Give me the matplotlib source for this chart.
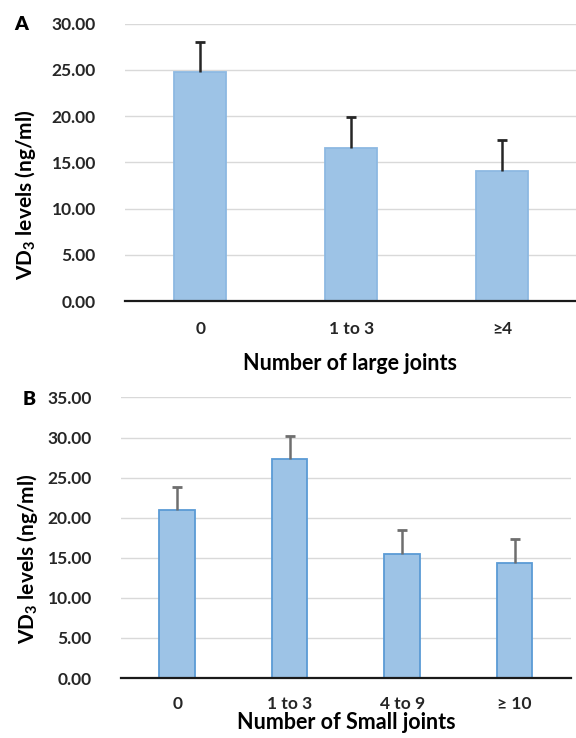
import numpy as np
import matplotlib
matplotlib.use("Agg")
import matplotlib.pyplot as plt

# Panel A: large joints
large_cats = ["0", "1 to 3", "\u22654"]
large_mean = [24.8, 16.6, 14.1]
large_sd = [3.2, 3.3, 3.3]

# Panel B: small joints
small_cats = ["0", "1 to 3", "4 to 9", "\u2265 10"]
small_mean = [20.9, 27.3, 15.5, 14.4]
small_sd = [2.95, 2.9, 2.95, 3.0]

plt.rcParams['font.family'] = ['Lato', 'DejaVu Sans']
plt.rcParams['font.weight'] = 'bold'
plt.rcParams['axes.labelweight'] = 'bold'
plt.rcParams['mathtext.fontset'] = 'custom'
plt.rcParams['mathtext.rm'] = 'Lato:bold'
plt.rcParams['mathtext.it'] = 'Lato:bold'
plt.rcParams['mathtext.bf'] = 'Lato:bold'

FILL = '#9DC3E6'
GRID = '#D9D9D9'


def draw_panel(ax, cats, means, sds, ymax, width, edge, ecol, xlim):
    x = np.arange(len(cats))
    means = np.array(means)
    tops = means + np.array(sds)
    ax.bar(x, means, width=width, color=FILL, edgecolor=edge, linewidth=1.3,
           zorder=3)
    # upper error only, cap at the top
    ax.vlines(x, means, tops, color=ecol, linewidth=1.8, zorder=4)
    ax.plot(x, tops, linestyle='none', marker='_', markersize=7,
            markeredgewidth=2, color=ecol, zorder=4)
    ax.set_ylim(0, ymax)
    ax.set_xlim(*xlim)
    ticks = np.arange(0, ymax + 0.1, 5)
    ax.set_yticks(ticks)
    ax.set_yticklabels([f"{v:.2f}" for v in ticks])
    ax.set_xticks(x)
    ax.set_xticklabels(cats)
    ax.tick_params(axis='y', length=0, pad=21, labelsize=12.5, colors='#262626')
    ax.tick_params(axis='x', length=0, pad=14, labelsize=12.5, colors='#262626')
    ax.grid(axis='y', color=GRID, linewidth=1, zorder=0)
    ax.set_axisbelow(True)
    for s in ['top', 'right', 'left']:
        ax.spines[s].set_visible(False)
    ax.spines['bottom'].set_color('#1a1a1a')
    ax.spines['bottom'].set_linewidth(1.6)
    ax.spines['bottom'].set_zorder(5)


fig = plt.figure(figsize=(5.76, 7.38), dpi=100)

axA = fig.add_axes([0.217, 0.592, 0.783, 0.376])
draw_panel(axA, large_cats, large_mean, large_sd, 30, 0.344, '#8DB9E2',
           '#262626', (-0.5, 2.49))
axA.set_xlabel("Number of large joints", fontsize=15.5, labelpad=12)

axB = fig.add_axes([0.210, 0.0813, 0.781, 0.3801])
draw_panel(axB, small_cats, small_mean, small_sd, 35, 0.316, '#5B9BD5',
           '#6E6E6E', (-0.5, 3.5))
axB.tick_params(axis='x', pad=13)
axB.set_xlabel("Number of Small joints", fontsize=15.5, labelpad=0)

fig.text(0.045, 1 - 195 / 738, "VD$_3$ levels (ng/ml)", rotation=90,
         ha='center', va='center', fontsize=15, fontweight='bold')
fig.text(0.047, 1 - 559 / 738, "VD$_3$ levels (ng/ml)", rotation=90,
         ha='center', va='center', fontsize=15, fontweight='bold')
fig.text(21 / 576, 1 - 24 / 738, "A", ha='center', va='center', fontsize=14,
         fontweight='heavy')
fig.text(29 / 576, 1 - 400 / 738, "B", ha='center', va='center', fontsize=14,
         fontweight='heavy')

fig.savefig("out.png", dpi=100)
